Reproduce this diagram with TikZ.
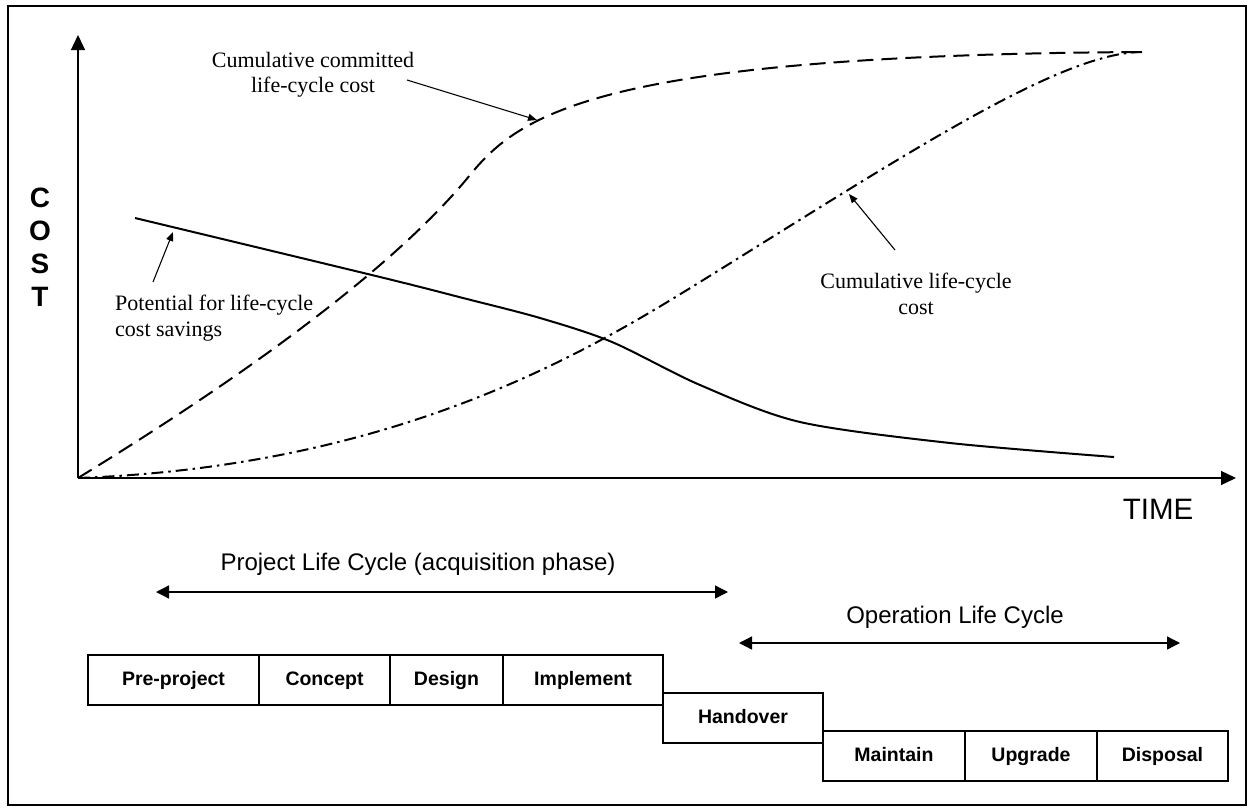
\documentclass[tikz,border=0pt]{standalone}
\usepackage{fontspec}
\setmainfont{Liberation Serif}
\newfontfamily\arialfont{Liberation Sans}
\usetikzlibrary{positioning,arrows.meta}

\tikzset{
  phasebox/.style={draw, line width=1.4pt, minimum height=50pt, inner sep=0pt, outer sep=0pt,
    text height=14pt, text depth=4pt, font=\arialfont\bfseries\fontsize{19.5}{22}\selectfont},
  axisline/.style={line width=1.3pt, -{Triangle[length=15pt,width=14pt]}},
  spanarrow/.style={line width=1.3pt, {Triangle[length=13pt,width=13pt]}-{Triangle[length=13pt,width=13pt]}},
  callout/.style={line width=1.1pt, -{Triangle[length=9pt,width=7pt]}},
  serifnote/.style={font=\fontsize{22}{26}\selectfont, inner sep=0pt},
  sanslabel/.style={font=\arialfont\fontsize{24}{28}\selectfont, inner sep=0pt},
  curve/.style={line width=2pt}
}

\begin{document}
\begin{tikzpicture}[x=1pt,y=-1pt]
\useasboundingbox (0,0) rectangle (1254,811);
\draw[line width=1.5pt] (8,6) rectangle (1246,805);

% axes
\coordinate (origin) at (78,478);
\coordinate (costtop) at (78,35);
\coordinate (timeend) at (1236,478);
\draw[axisline] (origin) -- (costtop);
\draw[axisline] (origin) -- (timeend);
\node[font=\arialfont\bfseries\fontsize{28}{33}\selectfont, align=center, inner sep=0pt] (cost) at (40,247) {C\\O\\S\\T};
\node[sanslabel, font=\arialfont\fontsize{29.5}{32}\selectfont] (time) at (1158,509) {TIME};

% curves
\draw[curve, dash pattern=on 16pt off 8pt] (origin)
  .. controls (230,385) and (390,273) .. (470,175)
  .. controls (520,114) and (600,55) .. (1142,52);
\draw[curve, dash pattern=on 12pt off 5pt on 2.5pt off 5pt] (origin)
  .. controls (400,466) and (590,350) .. (700,282)
  .. controls (900,158) and (1060,52) .. (1142,52);
\draw[curve] plot[smooth, tension=0.5] coordinates
  {(135,218) (380,277) (463,298) (540,318) (612,342) (700,385) (800,422) (950,443) (1114,457)};

% curve labels
\node[serifnote, align=center, font=\fontsize{22}{25}\selectfont] (committed) at (313,75) {Cumulative committed\\life-cycle cost};
\coordinate (committedtail) at (407,80);
\coordinate (committedtip) at (537,120);
\draw[callout] (committedtail) -- (committedtip);

\node[serifnote, align=left, anchor=west] (potential) at (115,318) {Potential for life-cycle\\cost savings};
\coordinate (potentialtail) at (153,282);
\coordinate (potentialtip) at (173,232);
\draw[callout] (potentialtail) -- (potentialtip);

\node[serifnote, align=center] (cumulative) at (916,294) {Cumulative life-cycle\\cost};
\coordinate (cumulativetail) at (895,250);
\coordinate (cumulativetip) at (849,194);
\draw[callout] (cumulativetail) -- (cumulativetip);

% life cycles
\coordinate (projstart) at (156,592);
\coordinate (projend) at (728,592);
\draw[spanarrow] (projstart) -- (projend);
\node[sanslabel] (projlabel) at (418,564) {Project Life Cycle (acquisition phase)};

\coordinate (opstart) at (739,643);
\coordinate (opend) at (1180,643);
\draw[spanarrow] (opstart) -- (opend);
\node[sanslabel] (oplabel) at (955,617) {Operation Life Cycle};

% phases
\node[phasebox, minimum width=171pt, anchor=north west] (preproject) at (88,655) {Pre-project};
\node[phasebox, minimum width=131pt, right=0pt of preproject] (concept) {Concept};
\node[phasebox, minimum width=113pt, right=0pt of concept] (design) {Design};
\node[phasebox, minimum width=160pt, right=0pt of design] (implement) {Implement};
\node[phasebox, minimum width=160pt, anchor=north west] (handover) at ([yshift=12pt]implement.south east) {Handover};
\node[phasebox, minimum width=142pt, anchor=north west] (maintain) at ([yshift=12pt]handover.south east) {Maintain};
\node[phasebox, minimum width=132pt, right=0pt of maintain] (upgrade) {Upgrade};
\node[phasebox, minimum width=131pt, right=0pt of upgrade] (disposal) {Disposal};
\end{tikzpicture}
\end{document}
